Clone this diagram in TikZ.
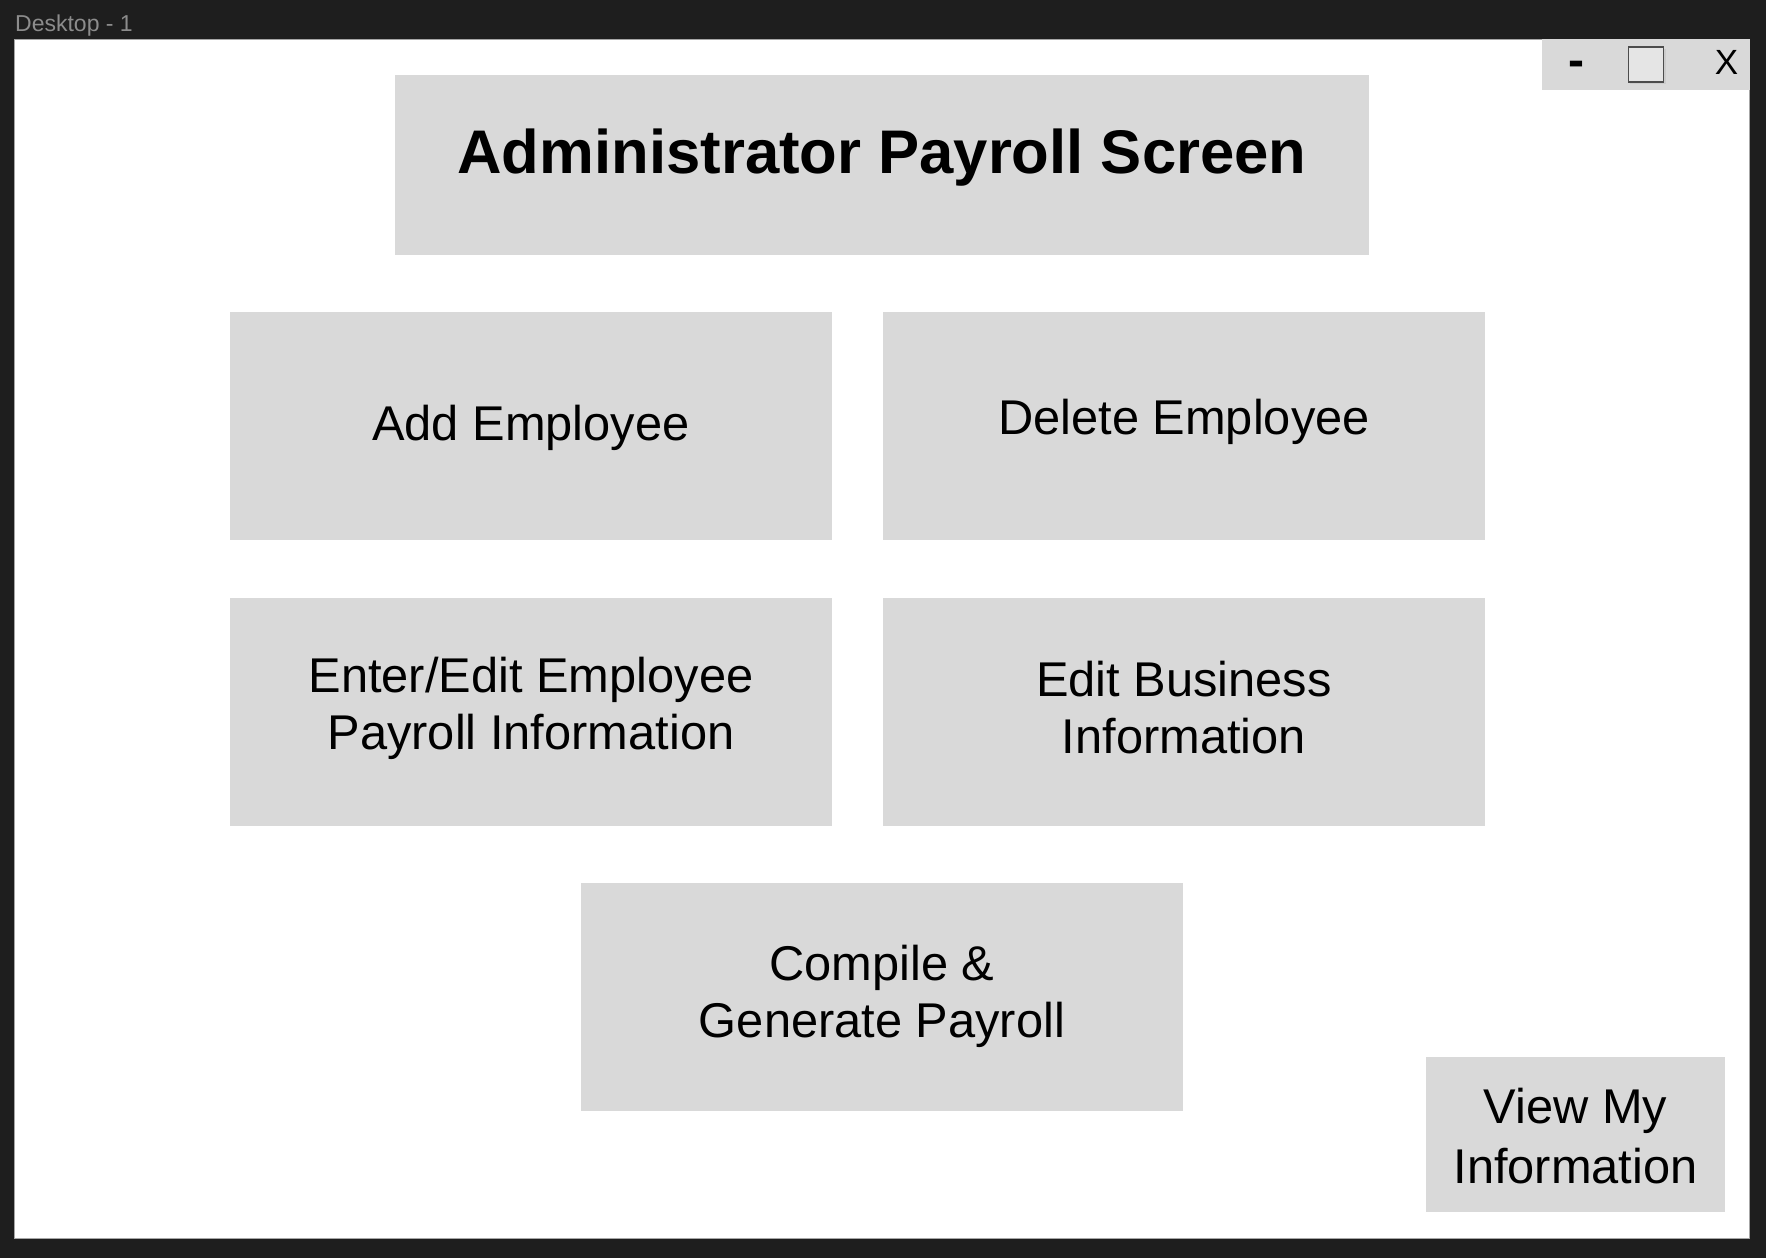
\documentclass[tikz,border=0pt]{standalone}
\usepackage{fontspec}
\setmainfont{Liberation Sans}
\usepackage{xcolor}
\usepackage{tikz}
\usetikzlibrary{positioning}
\definecolor{panel}{HTML}{D9D9D9}
\definecolor{canvas}{HTML}{1E1E1E}
\definecolor{caption}{HTML}{8C8C8C}

\begin{document}
\begin{tikzpicture}[x=1pt,y=-1pt]
    \tikzset{button/.style = {rectangle,fill=panel,inner sep=0pt,minimum width=602pt,minimum height=228pt}}
    \tikzset{btntext/.style = {inner sep=0pt,align=center,font=\fontsize{48.8}{57}\selectfont}}
    % frame
    \fill[canvas] (0,0) rectangle (1766,1258);
    \useasboundingbox (0,0) rectangle (1766,1258);
    \node[anchor=base west,inner sep=0pt,text=caption,font=\fontsize{23}{26}\selectfont] (tab) at (15,31.5) {Desktop - 1};
    \node[rectangle,fill=white,draw=black!35,line width=0.8pt,minimum width=1735pt,minimum height=1199pt,inner sep=0pt] (win) at (882.35,638.5) {};
    % window controls
    \node[rectangle,fill=panel,minimum width=208pt,minimum height=51pt,inner sep=0pt] (bar) at (1646,64.5) {};
    \node[anchor=base,inner sep=0pt,font=\bfseries\fontsize{48}{52}\selectfont] (minbtn) at (1576,76) {-};
    \fill[black!20] (1629.5,49) rectangle (1665.5,84);
    \node[rectangle,fill=black!10,draw=black!70,line width=1.2pt,minimum size=35pt,inner sep=0pt] (maxbtn) at (1646,64.5) {};
    \node[inner sep=0pt,font=\fontsize{35}{40}\selectfont] (closebtn) at (1726.5,62.5) {X};
    % buttons
    \node[button,minimum width=974pt,minimum height=180pt] (title) at (882,165) {};
    \node[button] (add) at (531,426) {};
    \node[button] (delete) at (1184,426) {};
    \node[button] (enter) at (531,712) {};
    \node[button] (business) at (1184,712) {};
    \node[button] (compile) at (882,997) {};
    \node[button,minimum width=299pt,minimum height=155pt] (view) at (1575.5,1134.5) {};
    % texts
    \node[inner sep=0pt,font=\bfseries\fontsize{61.6}{70}\selectfont] (titletext) at (882,157.5) {Administrator Payroll Screen};
    \node[btntext] (addtext) at (531,427.5) {Add Employee};
    \node[btntext] (deletetext) at (1184,422) {Delete Employee};
    \node[btntext] (entertext) at (531,708) {Enter/Edit Employee\\Payroll Information};
    \node[btntext] (businesstext) at (1184,708) {Edit Business\\Information};
    \node[btntext] (compiletext) at (882,996) {Compile \&\\Generate Payroll};
    \node[btntext,font=\fontsize{48.8}{60}\selectfont] (viewtext) at (1575.5,1136.5) {View My\\Information};
\end{tikzpicture}
\end{document}
